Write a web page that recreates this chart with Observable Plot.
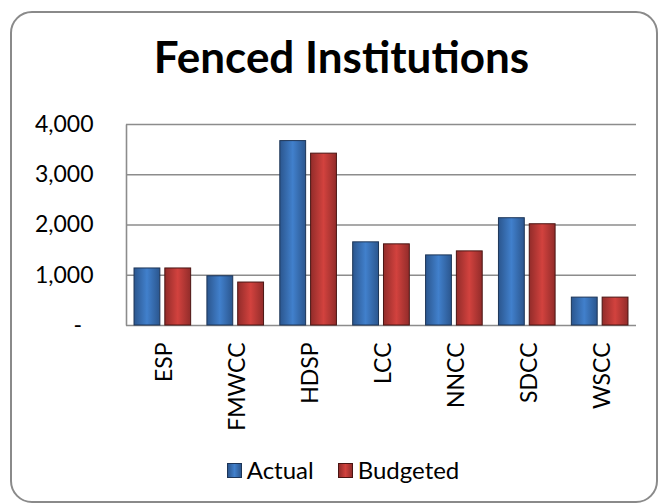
<!DOCTYPE html>
<html>
<head>
<meta charset="utf-8">
<script src="https://cdn.jsdelivr.net/npm/d3@7"></script>
<script src="https://cdn.jsdelivr.net/npm/@observablehq/plot@0.6"></script>
<style>
  html, body { margin: 0; padding: 0; background: #fff; }
  #wrap { position: relative; width: 659px; height: 504px; overflow: hidden; font-family: Lato, sans-serif; }
  #border { position: absolute; left: 10px; top: 11px; width: 644px; height: 488px; border: 2px solid #8a8a8a; border-radius: 22px; }
  #title { position: absolute; left: 0; width: 683px; top: 34px; text-align: center; font-size: 44px; line-height: 1; font-weight: bold; color: #000; }
  #legend { position: absolute; left: 0; width: 686px; top: 458px; display: flex; justify-content: center; align-items: center; font-size: 24px; line-height: 1; color: #000; }
  .sw { width: 15px; height: 15px; display: inline-block; margin-right: 5px; box-sizing: border-box; }
  .item { display: flex; align-items: center; margin: 0 12px; }
  #chart { position: absolute; left: 0; top: 0; }
</style>
</head>
<body>
<div id="wrap">
  <div id="border"></div>
  <div id="chart"></div>
  <div id="title">Fenced Institutions</div>
  <div id="legend"></div>
</div>
<script>
const categories = ["ESP", "FMWCC", "HDSP", "LCC", "NNCC", "SDCC", "WSCC"];
const seriesNames = ["Actual", "Budgeted"];
const actual = [1135, 980, 3670, 1655, 1395, 2135, 555];
const budgeted = [1135, 855, 3420, 1615, 1475, 2015, 555];
const yTicks = [0, 1000, 2000, 3000, 4000];

const rowsActual = categories.map((c, i) => ({category: c, series: "Actual", value: actual[i]}));
const rowsBudgeted = categories.map((c, i) => ({category: c, series: "Budgeted", value: budgeted[i]}));

const W = 659, H = 504, mL = 126, mR = 23, mT = 124, mB = 179;
const fw = W - mL - mR, fh = H - mT - mB;

const plot = Plot.plot({
  width: W,
  height: H,
  marginLeft: mL,
  marginRight: mR,
  marginTop: mT,
  marginBottom: mB,
  style: {fontFamily: "Lato, sans-serif", fontSize: "23px", color: "#000", background: "transparent"},
  x: {type: "band", domain: categories, paddingInner: 0.223, paddingOuter: 0.11, round: false, label: null},
  y: {domain: [0, 4000], label: null},
  marks: [
    Plot.ruleY(yTicks, {stroke: "#8c8c8c", strokeWidth: 1.6}),
    Plot.frame({stroke: "#8c8c8c", strokeWidth: 1.6, strokeDasharray: `0,${2 * fw + fh},${fh}`}),
    Plot.barY(rowsActual, {x: "category", y: "value", fill: "url(#gBlue)", stroke: "#1d3557", strokeWidth: 1, insetRight: 30.8}),
    Plot.barY(rowsBudgeted, {x: "category", y: "value", fill: "url(#gRed)", stroke: "#4a1513", strokeWidth: 1, insetLeft: 30.8}),
    Plot.axisY({ticks: yTicks, tickSize: 0, tickPadding: 33, tickFormat: d => d === 0 ? "-\u2002" : d3.format(",")(d), fontSize: 23}),
    Plot.axisX({tickRotate: -90, tickSize: 0, tickPadding: 17, fontSize: 23, dx: 2, label: null})
  ]
});

const svg = d3.select(plot);
const defs = svg.insert("defs", ":first-child");
function grad(id, edge, mid) {
  const g = defs.append("linearGradient").attr("id", id).attr("x1", 0).attr("x2", 1).attr("y1", 0).attr("y2", 0);
  g.append("stop").attr("offset", "0%").attr("stop-color", edge);
  g.append("stop").attr("offset", "50%").attr("stop-color", mid);
  g.append("stop").attr("offset", "100%").attr("stop-color", edge);
}
grad("gBlue", "#2b568e", "#4180cc");
grad("gRed", "#922c2a", "#d2423e");

document.getElementById("chart").appendChild(plot);

const legend = d3.select("#legend");
const swatchColors = {Actual: ["#2b568e", "#4180cc"], Budgeted: ["#922c2a", "#d2423e"]};
seriesNames.forEach(name => {
  const it = legend.append("div").attr("class", "item");
  const [e, m] = swatchColors[name];
  it.append("span").attr("class", "sw").style("background", `linear-gradient(to right, ${e}, ${m}, ${e})`).style("border", "1px solid " + (name === "Actual" ? "#1d3557" : "#4a1513"));
  it.append("span").text(name);
});
</script>
</body>
</html>
